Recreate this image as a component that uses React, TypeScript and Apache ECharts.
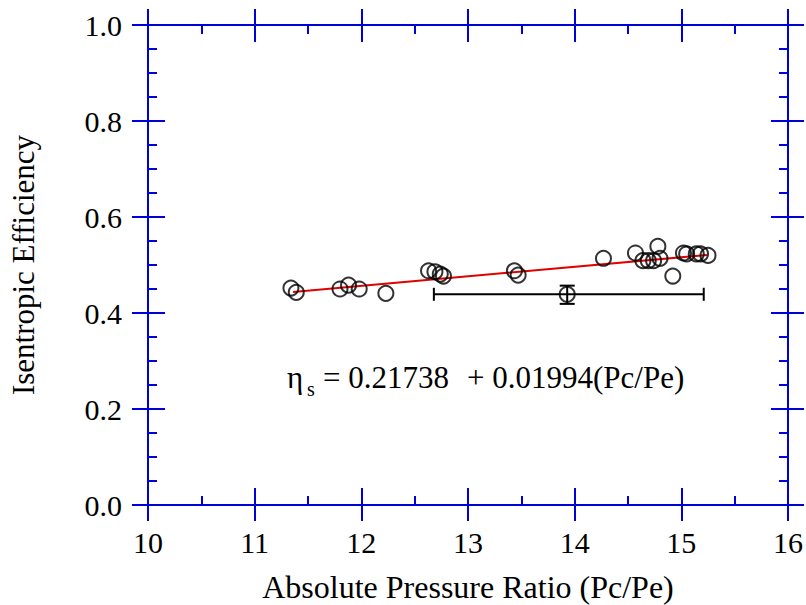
import React, { useEffect, useRef } from "react";
import * as echarts from "echarts";

const xValues = [11.34, 11.39, 11.80, 11.88, 11.98, 12.23, 12.63, 12.69, 12.74, 12.77, 13.435, 13.47, 14.27, 14.57, 14.78, 14.64, 14.69, 14.74, 14.80, 14.92, 15.02, 15.05, 15.14, 15.18, 15.25];
const yValues = [0.452, 0.443, 0.450, 0.458, 0.450, 0.441, 0.488, 0.486, 0.481, 0.477, 0.488, 0.479, 0.514, 0.525, 0.539, 0.509, 0.509, 0.509, 0.514, 0.477, 0.525, 0.523, 0.523, 0.523, 0.520];
const fitStart = [11.36, 0.444];
const fitEnd = [15.24, 0.521];
const meanPoint = [13.93, 0.439];
const meanXRange = [12.68, 15.21];
const meanYRange = [0.419, 0.457];
const xTicks = [10, 11, 12, 13, 14, 15, 16];
const yTicks = [0.0, 0.2, 0.4, 0.6, 0.8, 1.0];
const xTitle = "Absolute Pressure Ratio (Pc/Pe)";
const yTitle = "Isentropic Efficiency";
const eqSymbol = "η";
const eqSub = "s";
const eqPart1 = "= 0.21738";
const eqPart2 = "+ 0.01994(Pc/Pe)";

const BLUE = "#0000d8";
const FONT = "Liberation Serif";

function makeX(gridIndex: number, position: string, inside: boolean, labels: boolean, name?: string) {
  return {
    type: "value",
    gridIndex,
    position,
    min: xTicks[0],
    max: xTicks[xTicks.length - 1],
    interval: 1,
    name: name || "",
    nameLocation: "middle",
    nameGap: 66,
    nameTextStyle: { fontFamily: FONT, fontSize: 32, color: "#000" },
    axisLine: { show: true, onZero: false, lineStyle: { color: BLUE, width: 2 } },
    axisTick: { show: true, inside, length: inside ? 17 : 16, lineStyle: { color: BLUE, width: 2 } },
    minorTick: { show: inside, splitNumber: 2, length: 9, lineStyle: { color: BLUE, width: 2 } },
    splitLine: { show: false },
    minorSplitLine: { show: false },
    axisLabel: {
      show: labels,
      margin: 22,
      fontFamily: FONT,
      fontSize: 30,
      color: "#000",
      showMinLabel: true,
      showMaxLabel: true,
      formatter: (v: number) => String(v),
    },
  };
}

function makeY(gridIndex: number, position: string, inside: boolean, labels: boolean, name?: string) {
  return {
    type: "value",
    gridIndex,
    position,
    min: yTicks[0],
    max: yTicks[yTicks.length - 1],
    interval: 0.2,
    name: name || "",
    nameLocation: "middle",
    nameGap: 109,
    nameTextStyle: { fontFamily: FONT, fontSize: 31, color: "#000" },
    axisLine: { show: true, onZero: false, lineStyle: { color: BLUE, width: 2 } },
    axisTick: { show: true, inside, length: inside ? 17 : 16, lineStyle: { color: BLUE, width: 2 } },
    minorTick: { show: inside, splitNumber: 4, length: 9, lineStyle: { color: BLUE, width: 2 } },
    splitLine: { show: false },
    minorSplitLine: { show: false },
    axisLabel: {
      show: labels,
      margin: 26,
      fontFamily: FONT,
      fontSize: 30,
      color: "#000",
      showMinLabel: true,
      showMaxLabel: true,
      formatter: (v: number) => v.toFixed(1),
    },
  };
}

export default function App() {
  const ref = useRef<HTMLDivElement>(null);
  useEffect(() => {
    if (!ref.current) return;
    const chart = echarts.init(ref.current, null, { renderer: "svg" });
    const gridRect = { left: 148, right: 18, top: 25, bottom: 100, containLabel: false, outerBoundsMode: "none" };
    const option: any = {
      animation: false,
      backgroundColor: "#fff",
      grid: [{ ...gridRect }, { ...gridRect }],
      xAxis: [
        makeX(0, "bottom", false, true, xTitle),
        makeX(0, "top", false, false),
        makeX(1, "bottom", true, false),
        makeX(1, "top", true, false),
      ],
      yAxis: [
        makeY(0, "left", false, true, yTitle),
        makeY(0, "right", false, false),
        makeY(1, "left", true, false),
        makeY(1, "right", true, false),
      ],
      series: [
        {
          type: "line",
          xAxisIndex: 0,
          yAxisIndex: 0,
          data: [fitStart, fitEnd],
          symbol: "none",
          lineStyle: { color: "#e00000", width: 2 },
          z: 2,
        },
        {
          type: "scatter",
          xAxisIndex: 0,
          yAxisIndex: 0,
          data: xValues.map((x, i) => [x, yValues[i]]),
          symbol: "circle",
          symbolSize: 15,
          itemStyle: { color: "rgba(0,0,0,0)", borderColor: "#000", borderWidth: 2 },
          z: 3,
        },
        {
          type: "custom",
          xAxisIndex: 0,
          yAxisIndex: 0,
          data: [[meanPoint[0], meanPoint[1], meanXRange[0], meanXRange[1], meanYRange[0], meanYRange[1]]],
          renderItem: (params: any, api: any) => {
            const c = api.coord([api.value(0), api.value(1)]);
            const l = api.coord([api.value(2), api.value(1)]);
            const r = api.coord([api.value(3), api.value(1)]);
            const b = api.coord([api.value(0), api.value(4)]);
            const t = api.coord([api.value(0), api.value(5)]);
            const st = { stroke: "#000", lineWidth: 2 };
            const hc = 6.5;
            const vc = 7.5;
            return {
              type: "group",
              children: [
                { type: "line", shape: { x1: l[0], y1: c[1], x2: r[0], y2: c[1] }, style: st },
                { type: "line", shape: { x1: l[0], y1: c[1] - hc, x2: l[0], y2: c[1] + hc }, style: st },
                { type: "line", shape: { x1: r[0], y1: c[1] - hc, x2: r[0], y2: c[1] + hc }, style: st },
                { type: "line", shape: { x1: c[0], y1: t[1], x2: c[0], y2: b[1] }, style: st },
                { type: "line", shape: { x1: c[0] - vc, y1: b[1], x2: c[0] + vc, y2: b[1] }, style: st },
                { type: "line", shape: { x1: c[0] - vc, y1: t[1], x2: c[0] + vc, y2: t[1] }, style: st },
              ],
            };
          },
          z: 3,
        },
        {
          type: "scatter",
          xAxisIndex: 0,
          yAxisIndex: 0,
          data: [meanPoint],
          symbol: "circle",
          symbolSize: 15,
          itemStyle: { color: "rgba(0,0,0,0)", borderColor: "#000", borderWidth: 2 },
          z: 4,
        },
      ],
      graphic: [
        { type: "text", left: 287, top: 362, style: { text: eqSymbol, fontFamily: FONT, fontSize: 31, fill: "#000" } },
        { type: "text", left: 307, top: 379, style: { text: eqSub, fontFamily: FONT, fontSize: 20, fill: "#000" } },
        { type: "text", left: 323, top: 362, style: { text: eqPart1, fontFamily: FONT, fontSize: 31, fill: "#000" } },
        { type: "text", left: 467, top: 362, style: { text: eqPart2, fontFamily: FONT, fontSize: 31, fill: "#000" } },
      ],
    };
    chart.setOption(option);
    return () => chart.dispose();
  }, []);
  return <div ref={ref} style={{ width: 806, height: 605, position: "absolute", left: 0, top: 0 }} />;
}
